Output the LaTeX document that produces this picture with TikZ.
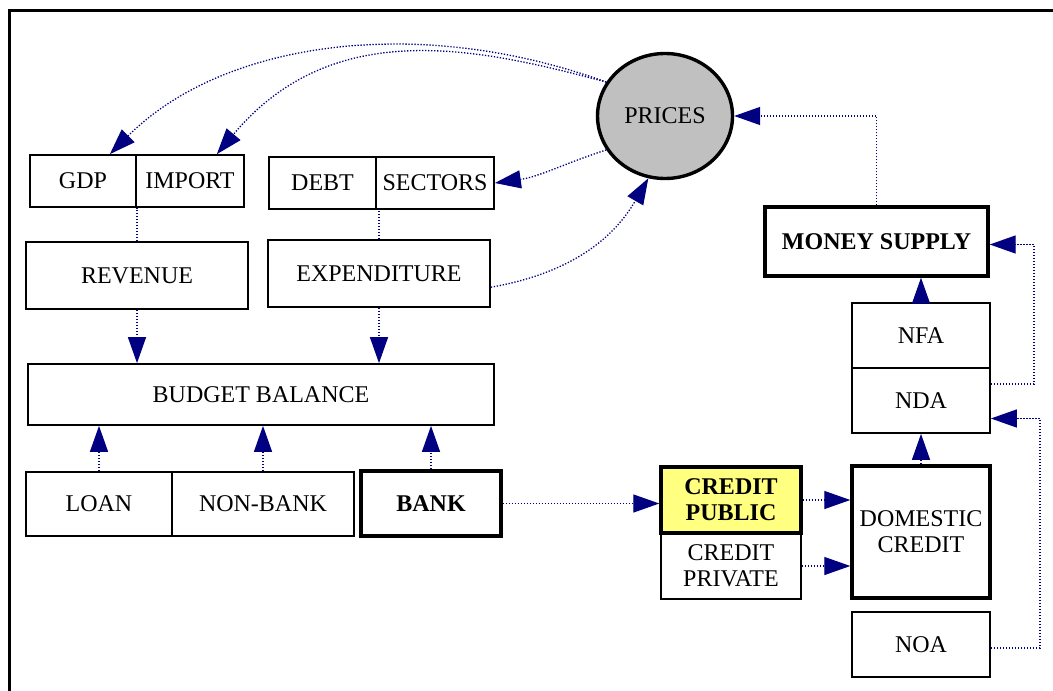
\documentclass[tikz,border=0pt]{standalone}
\usepackage{fontspec}
\setmainfont{Liberation Serif}
\usetikzlibrary{calc, arrows.meta, shapes.geometric}

\definecolor{linkBlue}{RGB}{0,0,128}
\definecolor{priceGray}{RGB}{192,192,192}
\definecolor{publicYellow}{RGB}{255,255,128}

\begin{document}
\begin{tikzpicture}[x=.5pt, y=.5pt,
  font=\fontsize{12}{13}\selectfont,
  box/.style={draw, rectangle, line width=.85pt, align=center, inner sep=0pt},
  heavy/.style={box, line width=1.7pt},
  strong/.style={font=\fontsize{12}{13}\selectfont\bfseries},
  link/.style={linkBlue, line width=.65pt, dash pattern=on .65pt off .85pt},
  flow/.style={link, -{Triangle[length=13pt, width=9pt]}}]

  \useasboundingbox (0,0) rectangle (1053,-690);

  % frame
  \draw[line width=1.5pt] (9,-700) -- (9,-11) -- (1060,-11);

  % fiscal boxes
  \node[box, minimum width=53pt, minimum height=26pt] (gdp) at (83,-181) {GDP};
  \node[box, minimum width=54pt, minimum height=26pt] (import) at (190,-181) {IMPORT};
  \node[box, minimum width=53.5pt, minimum height=26pt] (debt) at (322.5,-183) {DEBT};
  \node[box, minimum width=59pt, minimum height=26pt] (sectors) at (435,-183) {SECTORS};
  \node[box, minimum width=111pt, minimum height=33.5pt] (revenue) at (137,-275.5) {REVENUE};
  \node[box, minimum width=111pt, minimum height=33.5pt] (expenditure) at (379,-273.5) {EXPENDITURE};
  \node[box, minimum width=233pt, minimum height=30.5pt] (budget) at (261,-394.5) {BUDGET BALANCE};
  \node[box, minimum width=73pt, minimum height=32pt] (loan) at (99,-504) {LOAN};
  \node[box, minimum width=91pt, minimum height=32pt] (nonBank) at (263,-504) {NON-BANK};
  \node[heavy, strong, minimum width=70pt, minimum height=32.5pt] (bank) at (431,-503.5) {BANK};

  % monetary boxes
  \node[heavy, ellipse, fill=priceGray, minimum width=67.5pt, minimum height=62.5pt] (prices) at (665,-116) {PRICES};
  \node[heavy, strong, minimum width=111.5pt, minimum height=34.5pt] (money) at (876.5,-241.5) {MONEY SUPPLY};
  \node[box, minimum width=69pt, minimum height=32.5pt] (nfa) at (921,-335.5) {NFA};
  \node[box, minimum width=69pt, minimum height=32.5pt] (nda) at (921,-400.5) {NDA};
  \node[heavy, minimum width=69pt, minimum height=66pt] (domestic) at (921,-532) {DOMESTIC\\CREDIT};
  \node[box, minimum width=69pt, minimum height=32.5pt] (noa) at (921,-644.5) {NOA};
  \node[box, minimum width=70pt, minimum height=33pt] (private) at (731,-566) {CREDIT\\PRIVATE};
  \node[heavy, strong, fill=publicYellow, minimum width=70pt, minimum height=33pt] (public) at (731,-500) {CREDIT\\PUBLIC};

  % budget links
  \draw[link] (revenue.north) -- (revenue.north |- gdp.south);
  \draw[link] (expenditure.north) -- (expenditure.north |- debt.south);
  \draw[flow] (revenue.south) -- (revenue.south |- budget.north);
  \draw[flow] (expenditure.south) -- (expenditure.south |- budget.north);
  \draw[flow] (loan.north) -- (loan.north |- budget.south);
  \draw[flow] (nonBank.north) -- (nonBank.north |- budget.south);
  \draw[flow] (bank.north) -- (bank.north |- budget.south);

  % credit links
  \draw[flow] (bank.east) -- (bank.east -| public.west);
  \draw[flow] (public.east) -- (public.east -| domestic.west);
  \draw[flow] (private.east) -- (private.east -| domestic.west);
  \draw[flow] (domestic.north) -- (nda.south);
  \draw[flow] (nfa.north) -- (nfa.north |- money.south);

  % feedback loops
  \coordinate (ndaTurn) at (1034,-384);
  \coordinate (noaTurn) at (1040,-648);
  \draw[flow] (nda.east |- ndaTurn) -- (ndaTurn) |- ([yshift=-1.5pt]money.east);
  \draw[flow] (noa.east |- noaTurn) -- (noaTurn) |- ([yshift=-9pt]nda.east);
  \draw[flow] (money.north) |- (prices.east);

  % prices
  \draw[flow] (prices.150) .. controls +(160:200) and +(45:160) .. (gdp.45);
  \draw[flow] (prices.150) .. controls +(165:135) and +(50:180) .. (import.45);
  \draw[flow] (prices.210) to[out=198, in=8] (sectors.east);
  \draw[flow] ($(expenditure.east)!.4!(expenditure.south east)$) to[out=10, in=240] (prices.255);
\end{tikzpicture}
\end{document}
